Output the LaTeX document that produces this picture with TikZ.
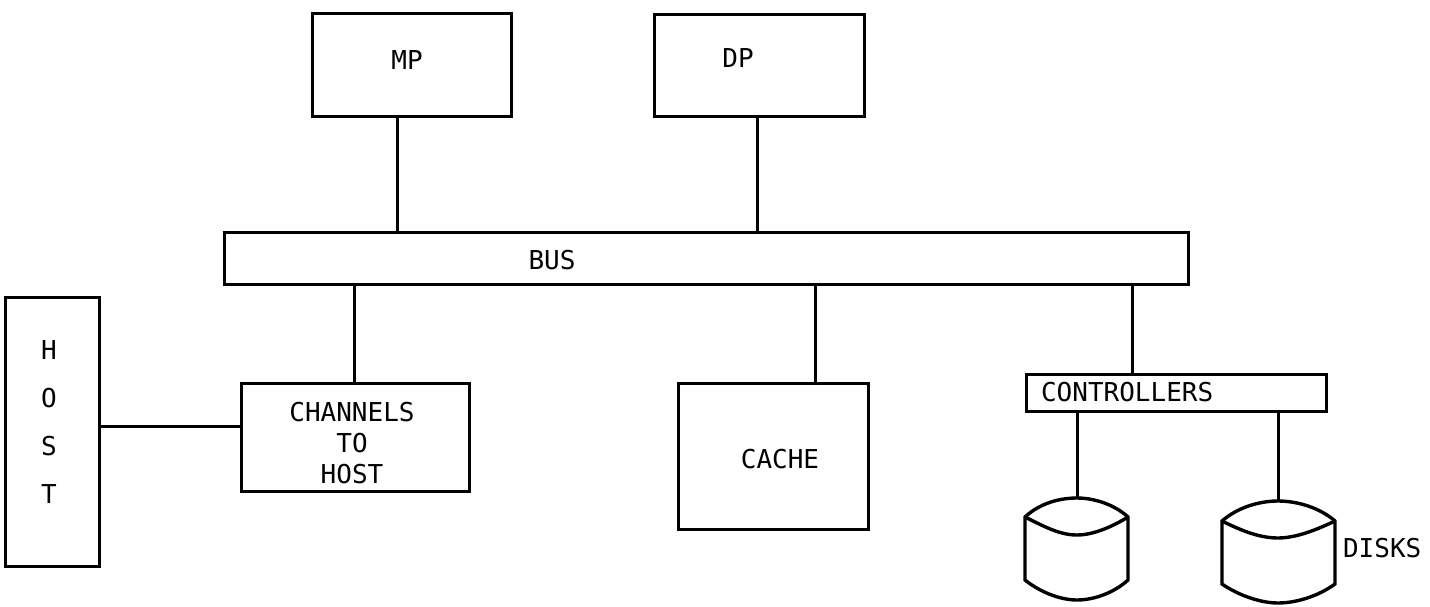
\documentclass[tikz,border=0pt]{standalone}
\usepackage{fontspec}
\setmonofont{DejaVu Sans Mono}
\begin{document}
\begin{tikzpicture}[x=1pt,y=-1pt,line width=3.4pt,
  font=\ttfamily\fontsize{26}{31}\selectfont,
  box/.style={draw,rectangle,inner sep=0pt,anchor=north west},
  wire/.style={draw,line width=3pt}]
\useasboundingbox (0,0) rectangle (1430,607);
% boxes
\node[box,minimum width=199pt,minimum height=103pt] (mp) at (311,12) {};
\node at (407,60) {MP};
\node[box,minimum width=210pt,minimum height=102pt] (dp) at (653,13) {};
\node at (738,58) {DP};
\node[box,minimum width=964pt,minimum height=52pt] (bus) at (223,231) {};
\node at (552,260) {BUS};
\node[box,minimum width=94pt,minimum height=269pt] (host) at (4,296) {};
\node[align=center,font=\ttfamily\fontsize{26}{48}\selectfont] at (49,422) {H\\O\\S\\T};
\node[box,minimum width=228pt,minimum height=108pt] (chan) at (240,382) {};
\node[align=center,font=\ttfamily\fontsize{26}{31}\selectfont] at (352,443) {CHANNELS\\TO\\HOST};
\node[box,minimum width=190pt,minimum height=146pt] (cache) at (677,382) {};
\node at (780,459) {CACHE};
\node[box,minimum width=300pt,minimum height=37pt] (ctrl) at (1025,373) {};
\node[anchor=west] at (1036,392) {CONTROLLERS};
% disks
\coordinate (d1) at (1077,498);
\coordinate (d2) at (1278,501);
\draw (1025,517) .. controls (1040,503) and (1060,498) .. (d1) .. controls (1095,498) and (1115,505) .. (1128,517)
      -- (1128,580) .. controls (1115,592) and (1095,600) .. (1077,600) .. controls (1060,600) and (1040,592) .. (1025,580) -- cycle;
\draw (1025,517) .. controls (1045,527) and (1060,535) .. (1077,535) .. controls (1095,535) and (1115,525) .. (1128,517);
\draw (1222,521) .. controls (1238,507) and (1260,501) .. (d2) .. controls (1298,501) and (1320,508) .. (1335,521)
      -- (1335,584) .. controls (1320,595) and (1298,603) .. (1278,603) .. controls (1260,603) and (1238,595) .. (1222,584) -- cycle;
\draw (1222,521) .. controls (1242,531) and (1260,538) .. (1278,538) .. controls (1298,538) and (1320,528) .. (1335,521);
\node[anchor=west] (disks) at (1338,548) {DISKS};
% connectors
\draw[wire] (mp.south -| 397,0) -- (bus.north -| 397,0);
\draw[wire] (dp.south -| 757,0) -- (bus.north -| 757,0);
\draw[wire] (bus.south -| 354,0) -- (chan.north -| 354,0);
\draw[wire] (bus.south -| 815,0) -- (cache.north -| 815,0);
\draw[wire] (bus.south -| 1132,0) -- (ctrl.north -| 1132,0);
\draw[wire] (host.east |- 0,426) -- (chan.west |- 0,426);
\draw[wire] (ctrl.south -| d1) -- (d1);
\draw[wire] (ctrl.south -| d2) -- (d2);
\end{tikzpicture}
\end{document}
